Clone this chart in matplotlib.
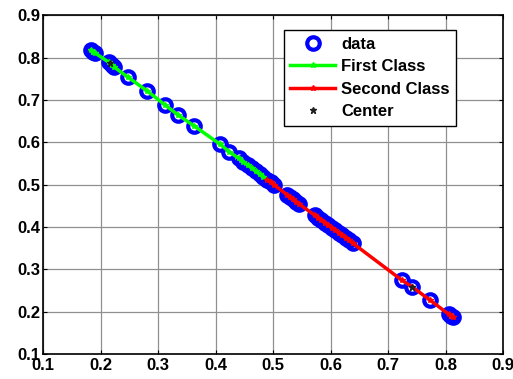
import matplotlib
matplotlib.use('Agg')
import matplotlib.pyplot as plt

plt.rcParams['font.family'] = ['Liberation Sans', 'DejaVu Sans']
plt.rcParams['font.weight'] = 'bold'

# first class points
x1 = [0.183, 0.187, 0.191, 0.214, 0.219, 0.224, 0.247, 0.281, 0.312, 0.335,
      0.363, 0.408, 0.424, 0.440, 0.448, 0.456, 0.463, 0.470, 0.477, 0.483]
y1 = [0.817, 0.813, 0.810, 0.789, 0.782, 0.777, 0.754, 0.721, 0.688, 0.664,
      0.638, 0.595, 0.577, 0.562, 0.553, 0.546, 0.539, 0.531, 0.524, 0.518]

# second class points
x2 = [0.490, 0.496, 0.501, 0.524, 0.529, 0.534, 0.539, 0.545, 0.572, 0.578,
      0.584, 0.590, 0.596, 0.602, 0.608, 0.614, 0.620, 0.626, 0.632, 0.638,
      0.724, 0.742, 0.773, 0.805, 0.810, 0.813]
y2 = [0.510, 0.505, 0.500, 0.476, 0.470, 0.465, 0.460, 0.454, 0.428, 0.422,
      0.416, 0.410, 0.404, 0.398, 0.392, 0.386, 0.380, 0.374, 0.368, 0.362,
      0.274, 0.258, 0.227, 0.194, 0.190, 0.187]

cx = [0.216, 0.742]
cy = [0.786, 0.258]

ticks = [0.1, 0.2, 0.3, 0.4, 0.5, 0.6, 0.7, 0.8, 0.9]

fig = plt.figure(figsize=(5.13, 3.79), dpi=100)
ax = fig.add_axes([0.084, 0.066, 0.897, 0.894])

ax.plot(x1 + x2, y1 + y2, 'o', color='none', markeredgecolor='#0000ff',
        markersize=9, markeredgewidth=3, label='data')
ax.plot(x1, y1, '-*', color='#00ff00', lw=2.5, markersize=4, label='First Class')
ax.plot(x2, y2, '-*', color='#ff0000', lw=2.5, markersize=4, label='Second Class')
ax.plot(cx, cy, '*', color='#202020', markersize=5, linestyle='none', label='Center')

ax.set_xlim(0.1, 0.9)
ax.set_ylim(0.1, 0.9)
ax.set_xticks(ticks)
ax.set_yticks(ticks)
ax.set_xticklabels([str(t) for t in ticks], fontsize=12, fontweight='bold')
ax.set_yticklabels([str(t) for t in ticks], fontsize=12, fontweight='bold')
ax.tick_params(axis='x', pad=3)
ax.tick_params(axis='y', pad=2)
ax.tick_params(direction='in', top=True, right=True, length=3, width=0.8)
ax.grid(True, color='#909090', lw=0.9)
for s in ax.spines.values():
    s.set_linewidth(1.2)
    s.set_color('black')

leg = ax.legend(loc='upper right', bbox_to_anchor=(0.898, 0.956),
                borderaxespad=0, prop={'weight': 'bold', 'size': 12},
                fancybox=False, framealpha=1, edgecolor='black',
                labelspacing=0.45, handlelength=2.7, borderpad=0.4,
                handletextpad=0.35)
leg.get_frame().set_linewidth(1.0)

fig.savefig('out.png', dpi=100)
